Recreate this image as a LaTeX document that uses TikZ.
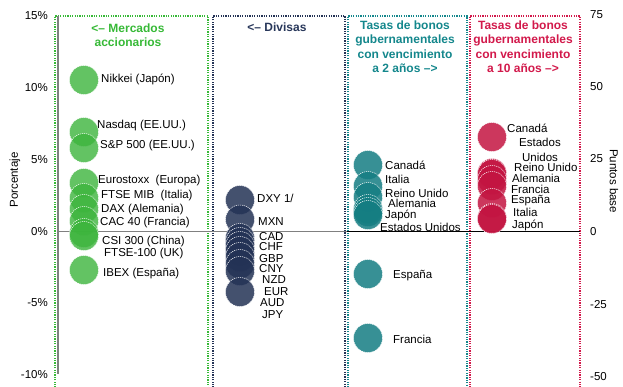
\documentclass[tikz,border=0pt]{standalone}
\usepackage{fontspec}
\setmainfont{Liberation Sans}
\usepackage{tikz}
\definecolor{eqgreen}{RGB}{60,180,60}
\definecolor{eqtext}{RGB}{55,185,55}
\definecolor{fxnavy}{RGB}{35,50,85}
\definecolor{fxtext}{RGB}{40,55,90}
\definecolor{twoteal}{RGB}{20,125,130}
\definecolor{twotext}{RGB}{20,135,140}
\definecolor{tencrim}{RGB}{195,20,65}
\definecolor{tentext}{RGB}{210,25,75}
\definecolor{axisgray}{RGB}{128,128,128}
\tikzstyle{lbl} = [anchor=west, inner sep=0pt, font=\fontsize{11.5}{13}\selectfont]
\tikzstyle{hdr} = [align=center, inner sep=0pt, font=\fontsize{12}{14.5}\selectfont\bfseries]
\tikzstyle{panel} = [line width=1.2pt, dash pattern=on 1.2pt off 1.2pt]
\tikzstyle{bubble} = [draw=white, line width=0.5pt, dash pattern=on 1.2pt off 0.8pt]
\tikzstyle{eqdot} = [bubble, fill=eqgreen, fill opacity=0.8]
\tikzstyle{fxdot} = [bubble, fill=fxnavy, fill opacity=0.85]
\tikzstyle{twodot} = [bubble, fill=twoteal, fill opacity=0.85]
\tikzstyle{tendot} = [bubble, fill=tencrim, fill opacity=0.85]

\begin{document}
\begin{tikzpicture}[yscale=-1]
			\useasboundingbox (0pt,0pt) rectangle (623pt,386pt);
			\draw[panel,eqtext] (55pt,390pt) -- (55pt,16pt) -- (208pt,16pt) -- (208pt,390pt);
			\draw[panel,fxnavy] (213pt,390pt) -- (213pt,16pt) -- (345pt,16pt) -- (345pt,390pt);
			\draw[panel,twotext] (348pt,390pt) -- (348pt,16pt) -- (467pt,16pt) -- (467pt,390pt);
			\draw[panel,tentext] (470pt,390pt) -- (470pt,16pt) -- (580pt,16pt) -- (580pt,390pt);
			\draw[axisgray,line width=1.3pt] (58pt,16pt) -- (58pt,374pt);
			\draw[axisgray,line width=1pt] (58pt,231pt) -- (347pt,231pt);
			\draw[black,line width=0.8pt] (347pt,231pt) -- (580pt,231pt);
			\node[lbl,anchor=east] (p15) at (48pt,16pt) {15\%};
			\node[lbl,anchor=east] (p10) at (48pt,88pt) {10\%};
			\node[lbl,anchor=east] (p5) at (48pt,160pt) {5\%};
			\node[lbl,anchor=east] (p0) at (48pt,232pt) {0\%};
			\node[lbl,anchor=east] (pm5) at (48pt,303pt) {-5\%};
			\node[lbl,anchor=east] (pm10) at (48pt,375pt) {-10\%};
			\node[lbl] (b75) at (590pt,15pt) {75};
			\node[lbl] (b50) at (590pt,87pt) {50};
			\node[lbl] (b25) at (590pt,159pt) {25};
			\node[lbl] (b0) at (590pt,232pt) {0};
			\node[lbl] (bm25) at (590pt,305pt) {-25};
			\node[lbl] (bm50) at (590pt,377pt) {-50};
			\node[lbl,anchor=center,rotate=90] (ylpct) at (15pt,180pt) {Porcentaje};
			\node[lbl,anchor=center,rotate=-90] (ylbp) at (614pt,181pt) {Puntos base};
			\node[hdr,eqtext] (eqhead) at (128pt,35pt) {<-- Mercados\\accionarios};
			\node[hdr,fxtext] (fxhead) at (277pt,27pt) {<-- Divisas};
			\node[hdr,twotext] (twohead) at (405pt,46.5pt) {Tasas de bonos\\gubernamentales\\con vencimiento\\a 2 años -->};
			\node[hdr,tentext] (tenhead) at (523pt,46.5pt) {Tasas de bonos\\gubernamentales\\con vencimiento\\a 10 años -->};
			\draw[eqdot] (84pt,80pt) circle (14.5pt);
			\draw[eqdot] (84pt,132pt) circle (14.5pt);
			\draw[eqdot] (84pt,148pt) circle (14.5pt);
			\draw[eqdot] (84pt,183pt) circle (14.5pt);
			\draw[eqdot] (84pt,198pt) circle (14.5pt);
			\draw[eqdot] (84pt,209pt) circle (14.5pt);
			\draw[eqdot] (84pt,221pt) circle (14.5pt);
			\draw[eqdot] (84pt,233pt) circle (14.5pt);
			\draw[eqdot] (84pt,236pt) circle (14.5pt);
			\draw[eqdot] (84pt,270pt) circle (14.5pt);
			\node[lbl] (nikkei) at (101pt,79pt) {Nikkei (Japón)};
			\node[lbl] (nasdaq) at (97pt,126pt) {Nasdaq (EE.UU.)};
			\node[lbl] (sp500) at (100pt,146pt) {S\&P 500 (EE.UU.)};
			\node[lbl] (estoxx) at (98pt,181pt) {Eurostoxx\ \ (Europa)};
			\node[lbl] (ftsemib) at (101pt,196pt) {FTSE MIB\ \ (Italia)};
			\node[lbl] (dax) at (101pt,210pt) {DAX (Alemania)};
			\node[lbl] (cac) at (100pt,223pt) {CAC 40 (Francia)};
			\node[lbl] (csi) at (102pt,242pt) {CSI 300 (China)};
			\node[lbl] (ftse) at (104pt,254pt) {FTSE-100 (UK)};
			\node[lbl] (ibex) at (103pt,274pt) {IBEX (España)};
			\draw[fxdot] (240pt,200pt) circle (14.5pt);
			\draw[fxdot] (240pt,219.5pt) circle (14.5pt);
			\draw[fxdot] (240pt,238pt) circle (14.5pt);
			\draw[fxdot] (240pt,242pt) circle (14.5pt);
			\draw[fxdot] (240pt,246pt) circle (14.5pt);
			\draw[fxdot] (240pt,251pt) circle (14.5pt);
			\draw[fxdot] (240pt,257pt) circle (14.5pt);
			\draw[fxdot] (240pt,264pt) circle (14.5pt);
			\draw[fxdot] (240pt,271pt) circle (14.5pt);
			\draw[fxdot] (240pt,292pt) circle (14.5pt);
			\node[lbl] (dxy) at (257pt,198pt) {DXY 1/};
			\node[lbl] (mxn) at (258pt,222pt) {MXN};
			\node[lbl] (cad) at (259pt,237pt) {CAD};
			\node[lbl] (chf) at (259pt,247pt) {CHF};
			\node[lbl] (gbp) at (259pt,259pt) {GBP};
			\node[lbl] (cny) at (259pt,269pt) {CNY};
			\node[lbl] (nzd) at (262pt,280pt) {NZD};
			\node[lbl] (eur) at (264pt,292pt) {EUR};
			\node[lbl] (aud) at (260pt,303pt) {AUD};
			\node[lbl] (jpy) at (262pt,315pt) {JPY};
			\draw[twodot] (368pt,165pt) circle (14.5pt);
			\draw[twodot] (368pt,186pt) circle (14.5pt);
			\draw[twodot] (368pt,197pt) circle (14.5pt);
			\draw[twodot] (368pt,209pt) circle (14.5pt);
			\draw[twodot] (368pt,212pt) circle (14.5pt);
			\draw[twodot] (368pt,215pt) circle (14.5pt);
			\draw[twodot] (368pt,274pt) circle (14.5pt);
			\draw[twodot] (368pt,338pt) circle (14.5pt);
			\node[lbl] (twocan) at (385pt,165pt) {Canadá};
			\node[lbl] (twoita) at (385pt,179pt) {Italia};
			\node[lbl] (twouk) at (385pt,193pt) {Reino Unido};
			\node[lbl] (twoger) at (388pt,203pt) {Alemania};
			\node[lbl] (twojpn) at (385pt,215pt) {Japón};
			\node[lbl] (twous) at (380pt,227pt) {Estados Unidos};
			\node[lbl] (twoesp) at (393pt,276pt) {España};
			\node[lbl] (twofra) at (393pt,339pt) {Francia};
			\draw[tendot] (492pt,137pt) circle (14.5pt);
			\draw[tendot] (492pt,173pt) circle (14.5pt);
			\draw[tendot] (492pt,174pt) circle (14.5pt);
			\draw[tendot] (492pt,180pt) circle (14.5pt);
			\draw[tendot] (492pt,186pt) circle (14.5pt);
			\draw[tendot] (492pt,203pt) circle (14.5pt);
			\draw[tendot] (492pt,218pt) circle (14.5pt);
			\draw[tendot] (492pt,219pt) circle (14.5pt);
			\node[lbl] (tencan) at (507pt,128pt) {Canadá};
			\node[lbl,anchor=center,align=center,font=\fontsize{11.5}{15}\selectfont] (tenus) at (540pt,149.5pt) {Estados\\Unidos};
			\node[lbl] (tenuk) at (514pt,167pt) {Reino Unido};
			\node[lbl] (tenger) at (512pt,178pt) {Alemania};
			\node[lbl] (tenfra) at (511pt,189pt) {Francia};
			\node[lbl] (tenesp) at (511pt,201pt) {España};
			\node[lbl] (tenita) at (513pt,212pt) {Italia};
			\node[lbl] (tenjpn) at (512pt,225pt) {Japón};
		\end{tikzpicture}
\end{document}
